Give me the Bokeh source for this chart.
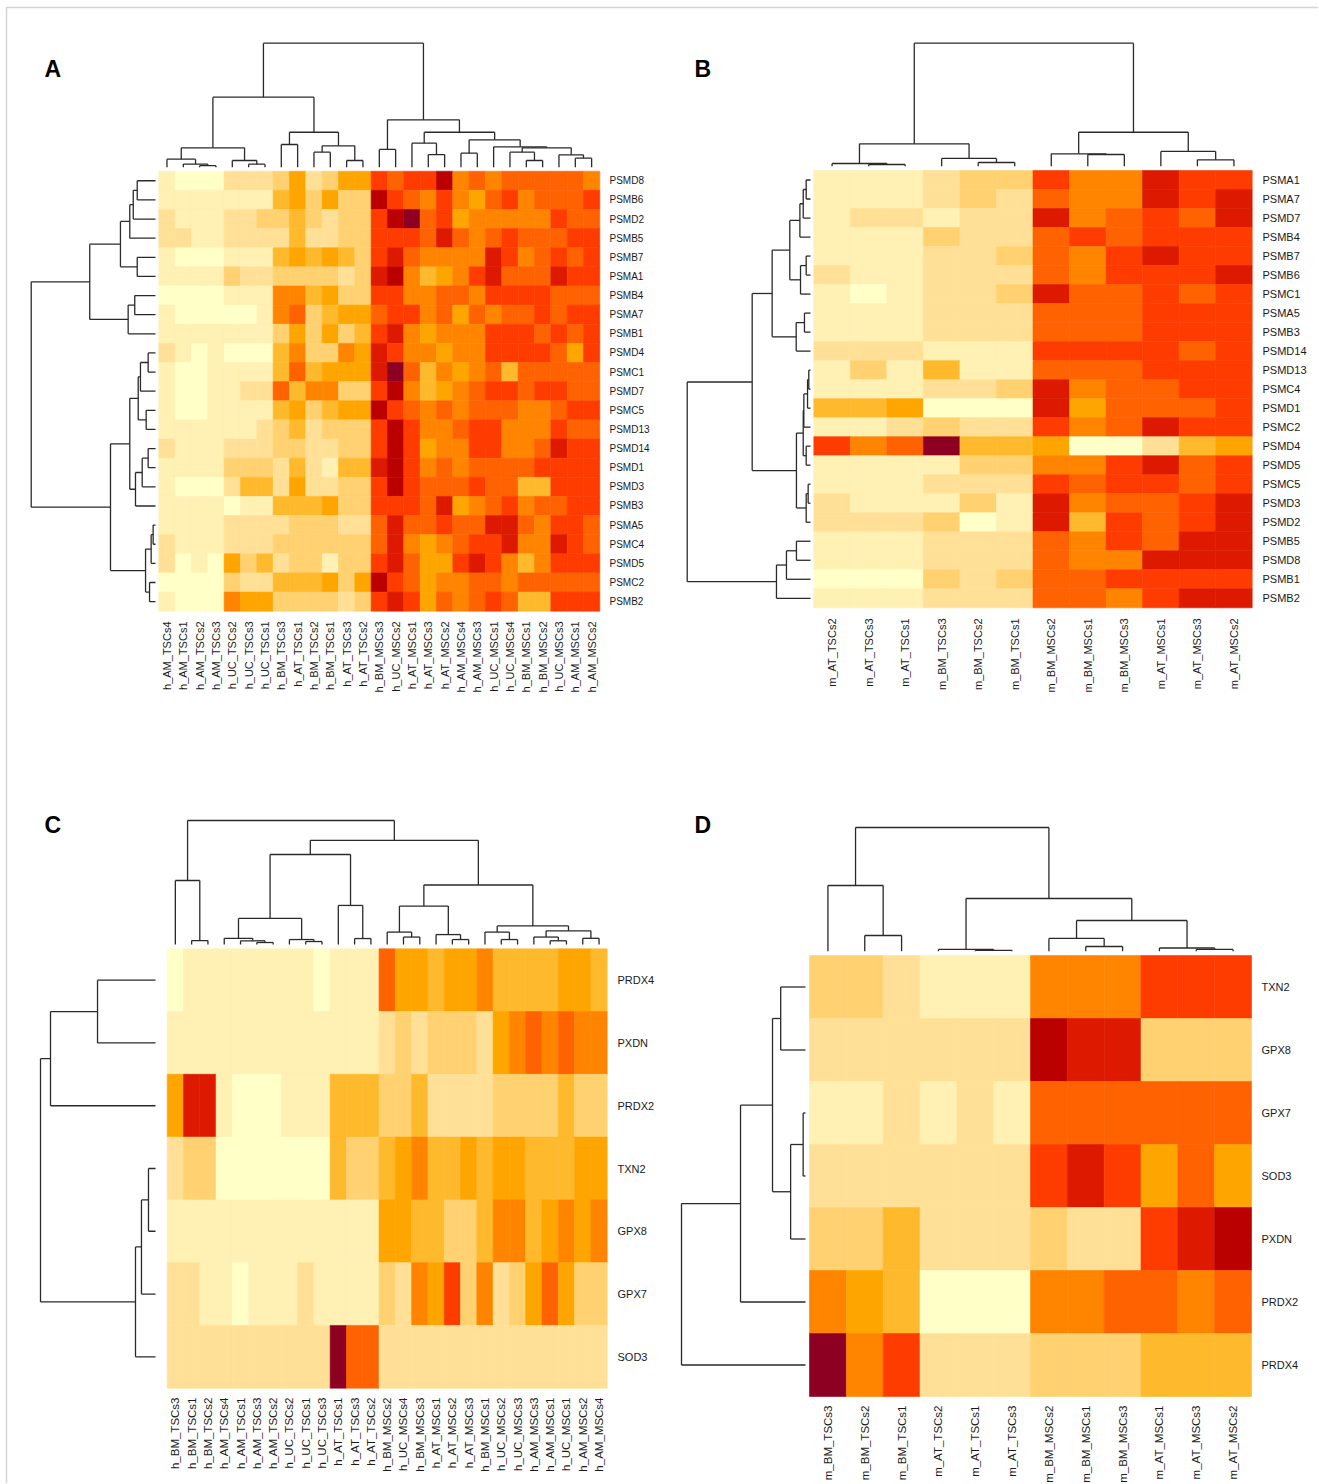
import math
from bokeh.plotting import figure
from bokeh.models import Range1d, ColumnDataSource, LinearColorMapper
from bokeh.transform import transform
from bokeh.core.properties import value
from bokeh.embed import file_html
from bokeh.resources import INLINE

# ---------------- colour scale (12 expression levels, low -> high) ----------------
PALETTE = ["#FFFFC8", "#FFF0B3", "#FFE096", "#FFD171", "#FFB92C", "#FFA500",
           "#FF8400", "#FF6200", "#FF3C00", "#DD1A00", "#BB0000", "#8E0022"]

# ---------------- Panel A : human proteasome genes ----------------
A_cols = ["h_AM_TSCs4", "h_AM_TSCs1", "h_AM_TSCs2", "h_AM_TSCs3", "h_UC_TSCs2", "h_UC_TSCs3",
          "h_UC_TSCs1", "h_BM_TSCs3", "h_AT_TSCs1", "h_BM_TSCs2", "h_BM_TSCs1", "h_AT_TSCs3",
          "h_AT_TSCs2", "h_BM_MSCs3", "h_UC_MSCs2", "h_AT_MSCs1", "h_AT_MSCs3", "h_AT_MSCs2",
          "h_AM_MSCs4", "h_AM_MSCs3", "h_UC_MSCs1", "h_UC_MSCs4", "h_BM_MSCs1", "h_BM_MSCs2",
          "h_UC_MSCs3", "h_AM_MSCs1", "h_AM_MSCs2"]
A_rows = ["PSMD8", "PSMB6", "PSMD2", "PSMB5", "PSMB7", "PSMA1", "PSMB4", "PSMA7", "PSMB1",
          "PSMD4", "PSMC1", "PSMD7", "PSMC5", "PSMD13", "PSMD14", "PSMD1", "PSMD3", "PSMB3",
          "PSMA5", "PSMC4", "PSMD5", "PSMC2", "PSMB2"]
A_vals = [
    [1,0,0,0,2,2,2,3,5,2,3,5,5, 8,7,8,8,10,6,7,6,7,7,7,7,7,6],
    [1,1,1,1,1,1,1,4,5,3,5,3,3, 10,8,7,6,8,6,5,7,8,6,7,7,7,8],
    [2,1,1,1,2,2,3,3,4,3,2,3,3, 8,10,11,7,8,5,6,6,6,6,6,8,7,7],
    [2,2,1,1,2,2,2,2,4,2,2,3,3, 8,8,8,7,9,7,6,7,8,7,7,7,8,8],
    [1,0,0,0,1,1,1,4,5,4,5,4,3, 8,9,7,6,6,6,6,9,8,6,7,8,7,8],
    [1,1,1,1,3,2,2,3,3,3,3,2,3, 9,10,6,4,5,6,8,9,7,7,7,9,8,8],
    [0,0,0,0,1,1,1,6,6,4,5,3,3, 8,8,6,6,7,7,6,8,8,8,8,7,7,7],
    [1,0,0,0,0,0,1,6,7,3,4,5,5, 7,8,8,6,7,5,7,6,7,7,8,7,8,8],
    [1,1,1,1,1,1,1,3,5,3,5,3,4, 8,9,6,5,6,6,6,8,8,8,7,8,7,8],
    [2,1,0,1,0,0,0,4,6,3,3,6,5, 9,8,6,6,5,6,6,8,8,8,8,7,5,8],
    [1,0,0,1,1,1,1,4,7,4,5,5,5, 9,11,7,4,6,5,6,7,4,7,7,7,7,7],
    [1,0,0,1,1,2,2,7,4,6,6,3,3, 8,10,6,4,5,6,7,8,8,7,8,8,7,7],
    [1,0,0,1,1,1,1,4,5,3,4,5,5, 10,8,7,6,7,6,7,7,7,6,6,7,8,8],
    [1,1,1,1,1,1,2,3,4,2,3,3,3, 8,10,8,6,6,7,8,8,6,6,6,8,7,7],
    [2,1,1,1,2,2,2,3,3,2,2,3,3, 8,10,8,5,6,6,8,8,6,6,7,9,8,8],
    [1,1,1,1,3,3,3,2,4,2,1,4,4, 9,10,8,6,7,6,7,7,7,7,8,8,8,8],
    [1,0,0,0,2,4,4,2,5,2,2,3,3, 8,10,8,7,7,7,8,7,7,4,4,8,8,8],
    [1,1,1,1,0,1,1,4,4,4,5,3,3, 8,8,8,7,9,5,6,7,8,6,7,7,8,8],
    [1,1,1,1,2,2,2,2,3,3,3,2,2, 7,9,7,7,8,7,7,9,9,7,6,8,8,7],
    [2,1,1,1,2,2,2,3,3,3,3,3,3, 7,9,6,5,6,7,8,8,9,6,6,9,8,7],
    [2,0,1,0,5,3,4,2,3,3,1,3,3, 8,9,7,5,5,8,9,8,6,4,6,8,8,8],
    [0,0,0,0,3,2,2,4,4,4,5,3,5, 10,8,7,5,6,6,7,7,6,7,7,7,7,7],
    [1,0,0,0,6,5,5,3,3,3,3,2,3, 8,9,8,5,7,6,7,8,7,4,4,8,8,8],
]
# dendrograms: (child, child, height); -k = k-th leaf in display order, +k = k-th merge
A_col_tree = [(-3,-4,1.2), (-2,1,2.5), (-1,2,6.5), (-6,-7,2.4), (-5,4,5.4), (3,5,15.6),
              (-8,-9,18.3), (-10,-11,12.1), (-12,-13,5.4), (8,9,17.2), (7,10,28.2), (6,11,56.5),
              (-14,-15,14.3), (-17,-18,10.2), (-16,14,19.4), (-19,-20,11.3), (-23,-24,5.4),
              (-22,17,12.1), (-26,-27,7.3), (-25,19,10.0), (18,20,15.6), (-21,21,16.4),
              (16,22,22.1), (15,23,28.2), (13,24,38.2), (12,25,100)]
A_row_tree = [(-1,-2,14.7), (1,-3,17.9), (2,-4,20.7), (-5,-6,14.7), (3,4,28.2), (-7,-8,16.7),
              (6,-9,22.0), (5,7,52.9), (-10,-11,5.9), (9,-12,12.1), (-13,-14,7.5), (10,11,13.9),
              (-15,-16,5.9), (13,-17,10.7), (14,-18,16.1), (12,15,20.7), (-19,-20,1.9),
              (17,-21,3.5), (-22,-23,4.8), (18,19,8.0), (16,20,36.2), (8,21,100)]

# ---------------- Panel B : mouse proteasome genes ----------------
B_cols = ["m_AT_TSCs2", "m_AT_TSCs3", "m_AT_TSCs1", "m_BM_TSCs3", "m_BM_TSCs2", "m_BM_TSCs1",
          "m_BM_MSCs2", "m_BM_MSCs1", "m_BM_MSCs3", "m_AT_MSCs1", "m_AT_MSCs3", "m_AT_MSCs2"]
B_rows = ["PSMA1", "PSMA7", "PSMD7", "PSMB4", "PSMB7", "PSMB6", "PSMC1", "PSMA5", "PSMB3",
          "PSMD14", "PSMD13", "PSMC4", "PSMD1", "PSMC2", "PSMD4", "PSMD5", "PSMC5", "PSMD3",
          "PSMD2", "PSMB5", "PSMD8", "PSMB1", "PSMB2"]
B_vals = [
    [1,1,1,2,3,3,8,6,6,9,8,8],
    [1,1,1,2,3,2,7,6,6,9,8,9],
    [1,2,2,1,2,2,9,6,7,8,7,9],
    [1,1,1,3,2,2,7,8,7,8,8,8],
    [1,1,1,2,2,3,7,6,8,9,8,8],
    [2,1,1,2,2,2,7,6,8,8,8,9],
    [1,0,1,2,2,3,9,7,7,8,7,8],
    [1,1,1,2,2,2,7,7,7,8,8,8],
    [1,1,1,2,2,2,7,7,7,8,8,8],
    [2,2,2,1,1,1,8,8,8,8,7,8],
    [1,3,1,4,1,1,7,7,7,8,8,8],
    [1,1,1,2,2,3,9,6,7,7,8,8],
    [4,4,5,0,0,0,9,5,7,7,7,8],
    [1,1,2,3,2,2,8,6,7,9,8,8],
    [8,6,7,11,4,4,5,0,0,2,4,5],
    [1,1,1,1,3,3,6,6,8,9,7,8],
    [1,1,1,2,2,2,8,7,8,8,7,8],
    [2,1,1,1,3,1,9,6,7,7,8,9],
    [2,2,2,3,0,1,9,4,8,7,8,9],
    [1,1,1,2,2,2,7,6,8,7,9,9],
    [1,1,1,2,2,2,7,6,6,9,9,9],
    [0,0,0,3,2,3,7,7,8,8,8,8],
    [1,1,1,2,2,2,7,7,6,8,9,9],
]
B_col_tree = [(-2,-3,1.4), (-1,1,2.2), (-5,-6,3.0), (-4,3,6.3), (2,4,18.2), (-8,-9,9.5),
              (-7,6,10.1), (-11,-12,5.2), (-10,8,12.0), (7,9,27.6), (5,10,100)]
B_row_tree = [(-1,-2,3.5), (1,-3,5.9), (2,-4,8.6), (-5,-6,3.5), (4,-7,8.1), (3,5,16.8),
              (-8,-9,4.9), (7,-10,11.6), (6,8,31.1), (-11,-12,1.4), (10,-13,2.4), (11,-14,5.4),
              (-15,-16,3.5), (12,13,5.9), (-17,-18,1.9), (15,-19,3.5), (14,16,11.4),
              (9,17,47.3), (-20,-21,11.4), (19,-22,19.5), (20,-23,27.6), (18,21,100)]

# ---------------- Panel C : human antioxidant genes ----------------
C_cols = ["h_BM_TSCs3", "h_BM_TSCs1", "h_BM_TSCs2", "h_AM_TSCs4", "h_AM_TSCs1", "h_AM_TSCs3",
          "h_AM_TSCs2", "h_UC_TSCs2", "h_UC_TSCs1", "h_UC_TSCs3", "h_AT_TSCs1", "h_AT_TSCs3",
          "h_AT_TSCs2", "h_BM_MSCs2", "h_UC_MSCs4", "h_BM_MSCs3", "h_AT_MSCs1", "h_AT_MSCs2",
          "h_AT_MSCs3", "h_BM_MSCs1", "h_UC_MSCs2", "h_UC_MSCs3", "h_AM_MSCs3", "h_AM_MSCs1",
          "h_UC_MSCs1", "h_AM_MSCs2", "h_AM_MSCs4"]
C_rows = ["PRDX4", "PXDN", "PRDX2", "TXN2", "GPX8", "GPX7", "SOD3"]
C_vals = [
    [0,1,1,1,1,1,1,1,1,0,1,1,1, 7,5,5,4,5,5,6,4,4,4,4,5,5,4],
    [1,1,1,1,1,1,1,1,1,1,1,1,1, 2,3,2,3,3,3,2,5,6,7,6,7,6,6],
    [5,9,9,1,0,0,0,1,1,1,4,4,4, 3,3,4,2,2,2,2,3,3,3,3,4,3,3],
    [2,3,3,0,0,0,0,0,0,0,4,3,3, 4,5,6,4,4,5,4,5,5,4,4,4,5,5],
    [1,1,1,1,1,1,1,1,1,1,1,1,1, 5,5,4,4,3,3,4,6,6,4,5,6,5,6],
    [2,2,1,1,0,1,1,1,2,1,1,1,1, 3,2,6,5,8,3,6,2,3,5,7,5,3,3],
    [2,2,2,2,2,2,2,2,2,2,11,7,7, 2,2,2,2,2,2,2,2,2,2,2,2,2,2],
]
C_col_tree = [(-2,-3,3.2), (-1,1,51.6), (-6,-7,1.6), (-5,3,3.0), (-4,4,5.0), (-9,-10,2.4),
              (-8,6,4.0), (5,7,21.0), (-12,-13,4.8), (-11,9,31.5), (8,10,72.6),
              (-15,-16,6.0), (-14,12,10.0), (-18,-19,4.0), (-17,14,8.0), (13,15,31.0),
              (-21,-22,4.0), (-20,17,10.0), (-24,-25,3.0), (-23,19,6.0), (-26,-27,5.0),
              (20,21,11.0), (18,22,15.0), (16,23,48.0), (11,24,84.0), (2,25,100)]
C_row_tree = [(-1,-2,50.4), (1,-3,91.3), (-4,-5,6.1), (3,-6,12.2), (4,-7,17.4), (2,5,100)]

# ---------------- Panel D : mouse antioxidant genes ----------------
D_cols = ["m_BM_TSCs3", "m_BM_TSCs2", "m_BM_TSCs1", "m_AT_TSCs2", "m_AT_TSCs1", "m_AT_TSCs3",
          "m_BM_MSCs2", "m_BM_MSCs1", "m_BM_MSCs3", "m_AT_MSCs1", "m_AT_MSCs3", "m_AT_MSCs2"]
D_rows = ["TXN2", "GPX8", "GPX7", "SOD3", "PXDN", "PRDX2", "PRDX4"]
D_vals = [
    [3,3,2,1,1,1,6,6,6,8,8,8],
    [2,2,2,2,2,2,10,9,9,3,3,3],
    [1,1,2,1,2,1,7,7,7,7,7,7],
    [2,2,2,2,2,2,8,9,8,5,7,5],
    [3,3,4,2,2,2,3,2,2,8,9,10],
    [6,5,4,0,0,0,6,6,7,7,6,7],
    [11,6,8,2,2,2,3,3,3,4,4,4],
]
D_col_tree = [(-2,-3,12.7), (-1,1,53.1), (-5,-6,0.6), (-4,3,1.4), (-8,-9,3.8), (-7,5,10.3),
              (-11,-12,1.4), (-10,7,2.6), (6,8,24.8), (4,9,42.6), (2,10,100)]
D_row_tree = [(-1,-2,20.0), (-3,-4,1.9), (2,-5,12.0), (1,3,26.6), (4,-6,52.4), (5,-7,100)]

# ---------------- page geometry (page pixels, figure fills the page) ----------------
W, H = 1318, 1483
PANELS = {
    "A": dict(cols=A_cols, rows=A_rows, vals=A_vals, ctree=A_col_tree, rtree=A_row_tree,
              hx=(158.3, 599.3), hy=(170.7, 610.7), top=(166.7, 42.7), left=(155.0, 30.7),
              rowlab_x=609, collab_y=621, letter=(44, 68), colfont="11px",
              rowfont="10px"),
    "B": dict(cols=B_cols, rows=B_rows, vals=B_vals, ctree=B_col_tree, rtree=B_row_tree,
              hx=(813.3, 1251.7), hy=(170.0, 607.3), top=(165.7, 42.7), left=(810.0, 686.7),
              rowlab_x=1262, collab_y=618, letter=(694, 68), colfont="11px",
              rowfont="11px"),
    "C": dict(cols=C_cols, rows=C_rows, vals=C_vals, ctree=C_col_tree, rtree=C_row_tree,
              hx=(166.7, 606.7), hy=(948.3, 1387.7), top=(944.0, 820.0), left=(155.0, 40.0),
              rowlab_x=617, collab_y=1397, letter=(44, 824), colfont="11.5px",
              rowfont="11px"),
    "D": dict(cols=D_cols, rows=D_rows, vals=D_vals, ctree=D_col_tree, rtree=D_row_tree,
              hx=(809.0, 1251.0), hy=(955.0, 1396.0), top=(950.7, 827.0), left=(805.0, 681.0),
              rowlab_x=1261, collab_y=1405, letter=(694, 824), colfont="11.5px",
              rowfont="11px"),
}
FRAME = (6, 7)  # light border of the original figure (left, top)


def xr(d0, d1, X0, X1):
    k = (d1 - d0) / (X1 - X0)
    return Range1d(start=d0 - k * X0, end=d0 + k * (W - X0))


def yr(d0, d1, Y0, Y1):
    p0, p1 = H - Y0, H - Y1
    k = (d1 - d0) / (p1 - p0)
    return Range1d(start=d0 - k * p0, end=d0 + k * (H - p0))


def tree_segments(tree):
    pos = {}
    segs = []

    def get(ref):
        if ref < 0:
            return (-ref - 1) + 0.5, 0.0
        return pos[ref]

    for k, (a, b, h) in enumerate(tree, start=1):
        xa, ha = get(a)
        xb, hb = get(b)
        segs.append((xa, ha, xa, h))
        segs.append((xb, hb, xb, h))
        segs.append((xa, h, xb, h))
        pos[k] = ((xa + xb) / 2.0, h)
    return segs


p = figure(width=W, height=H, output_backend="svg", toolbar_location=None, min_border=0,
           x_range=Range1d(0, W), y_range=Range1d(H, 0),
           x_axis_location=None, y_axis_location=None)
p.grid.visible = False
p.outline_line_color = None
p.background_fill_color = "white"
p.border_fill_color = "white"

# light frame of the original figure
p.quad(left=[FRAME[0]], right=[W + 20], top=[FRAME[1]], bottom=[H + 20],
       fill_color=None, line_color="#d4d4d4", line_width=1.5)

mapper = LinearColorMapper(palette=PALETTE, low=-0.5, high=len(PALETTE) - 0.5)
LINE = "#2a2a2a"
TXT = "#1a1a1a"

for name, P in PANELS.items():
    ncol, nrow = len(P["cols"]), len(P["rows"])
    cx, ry, tx, lx = name + "_c", name + "_r", name + "_t", name + "_l"
    p.extra_x_ranges[cx] = xr(0, ncol, P["hx"][0], P["hx"][1])
    p.extra_y_ranges[ry] = yr(0, nrow, P["hy"][0], P["hy"][1])
    p.extra_y_ranges[tx] = yr(0, 100, P["top"][0], P["top"][1])
    p.extra_x_ranges[lx] = xr(0, 100, P["left"][0], P["left"][1])

    # heatmap cells
    xs, ys, vs = [], [], []
    for r, row in enumerate(P["vals"]):
        for c, v in enumerate(row):
            xs.append(c + 0.5)
            ys.append(r + 0.5)
            vs.append(v)
    src = ColumnDataSource(dict(x=xs, y=ys, v=vs))
    p.rect(x="x", y="y", width=1, height=1, source=src,
           fill_color=transform("v", mapper), line_color=transform("v", mapper),
           line_width=0.6, x_range_name=cx, y_range_name=ry)

    # column dendrogram (top)
    segs = tree_segments(P["ctree"])
    p.segment(x0=[s[0] for s in segs], y0=[s[1] for s in segs],
              x1=[s[2] for s in segs], y1=[s[3] for s in segs],
              line_color=LINE, line_width=1.3, x_range_name=cx, y_range_name=tx)
    # row dendrogram (left)
    segs = tree_segments(P["rtree"])
    p.segment(x0=[s[1] for s in segs], y0=[s[0] for s in segs],
              x1=[s[3] for s in segs], y1=[s[2] for s in segs],
              line_color=LINE, line_width=1.3, x_range_name=lx, y_range_name=ry)

    # row labels
    p.text(x=[P["rowlab_x"]] * nrow, y=[i + 0.5 for i in range(nrow)], text=P["rows"],
           text_font=value("Liberation Sans"), text_font_size=P["rowfont"], text_color=TXT,
           text_align="left", text_baseline="middle", y_range_name=ry)
    # column labels (vertical)
    p.text(x=[i + 0.5 for i in range(ncol)], y=[P["collab_y"]] * ncol, text=P["cols"],
           angle=math.pi / 2, text_font=value("Liberation Sans"), text_font_size=P["colfont"],
           text_color=TXT, text_align="right", text_baseline="middle", x_range_name=cx)
    # panel letter
    p.text(x=[P["letter"][0]], y=[P["letter"][1]], text=[name],
           text_font=value("Liberation Sans"), text_font_style="bold", text_font_size="23px",
           text_color="#000000", text_align="left", text_baseline="middle")

open("out.html", "w").write(file_html(p, INLINE))
